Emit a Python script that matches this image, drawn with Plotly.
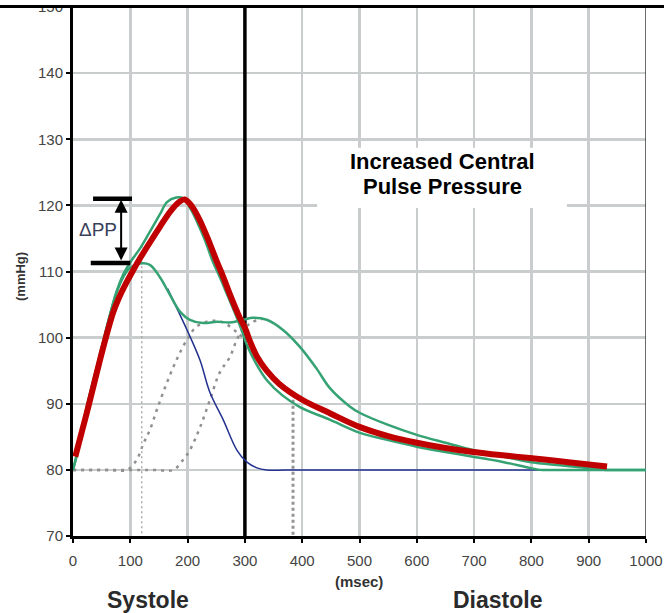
import plotly.graph_objects as go

# ---------------- data ----------------
x_ticks = [0, 100, 200, 300, 400, 500, 600, 700, 800, 900, 1000]
y_ticks = [70, 80, 90, 100, 110, 120, 130, 140, 150]

# normal central pressure wave (green, second shoulder)
normal_t = [0, 10, 24, 40, 53, 65, 76, 88, 100, 117, 134, 152, 169, 187, 204, 227, 251,
            274, 297, 314, 338, 366, 396, 426, 448, 483, 501, 550, 600, 650, 698, 750,
            797, 850, 897, 930, 960, 1000]
normal_p = [80, 83.5, 89.5, 95, 99.5, 103.6, 106.8, 109.2, 110.6, 111.2, 111, 109.1, 106.5,
            103.9, 102.7, 102.2, 102.4, 102.3, 102.7, 103, 102.7, 101.2, 98.6, 95.2, 92.4,
            89.6, 88.6, 86.8, 85.3, 84.1, 83, 82, 81.2, 80.7, 80.3, 80, 80, 80]

# increased central pulse pressure wave (green, peak ~121)
increased_t = [0, 10, 24, 40, 53, 65, 76, 88, 100, 117, 134, 152, 164, 180, 192, 205, 216,
               230, 244, 257, 269, 286, 297, 303, 320, 338, 365, 396, 448, 501, 550, 600,
               650, 698, 750, 797, 815, 850, 1000]
increased_p = [80, 83.5, 89.5, 95, 99.5, 103.6, 107, 109.6, 111.4, 113.5, 116, 118.7, 120.5,
               121.2, 121.1, 119.5, 117.6, 114.8, 111.5, 109, 106.5, 103, 100.5, 99, 96,
               93.6, 91.3, 89.5, 87.6, 85.6, 84.5, 83.5, 82.7, 82, 81.2, 80.3, 80, 80, 80]

# idealised aortic pressure (red)
aortic_t = [4, 24, 53, 70, 80, 90, 105, 117, 135, 152, 170, 185, 195, 208, 222, 237, 251,
            263, 274, 291, 300, 310, 322, 338, 360, 400, 450, 500, 550, 600, 650, 698, 750,
            797, 850, 900, 932]
aortic_p = [82, 88.6, 98.6, 103.8, 106, 107.8, 110.2, 112, 114.5, 116.8, 119.1, 120.5,
            120.9, 119.8, 117.6, 114.6, 111.5, 109, 106.5, 103, 101.5, 99.2, 97, 95, 93,
            90.6, 88.5, 86.5, 85.1, 84.1, 83.3, 82.7, 82.2, 81.8, 81.3, 80.8, 80.5]

# forward (incident) wave, visible part (blue)
forward_t = [165, 181, 204, 222, 239, 262, 286, 303, 321, 338, 400, 830]
forward_p = [107.4, 104.5, 100.2, 96.5, 91.7, 87.6, 83, 81.2, 80.3, 80, 80, 80]

# early reflected wave (grey dotted)
early_refl_t = [0, 60, 94, 111, 123, 134, 148, 164, 181, 199, 216, 239, 262, 286, 297]
early_refl_p = [80, 80, 80, 81.5, 84, 86, 89.5, 93.2, 96.7, 99.7, 101.7, 102.5, 102.3, 100.8, 100]

# late reflected wave (grey dotted)
late_refl_t = [0, 140, 175, 192, 204, 222, 239, 256, 274, 286, 297, 314, 330]
late_refl_p = [80, 80, 80, 81.5, 83, 86.5, 90.6, 94.7, 97.1, 99.7, 101.2, 102.4, 102.8]

# markers of reflected-wave arrival
arrival_early_t = [120, 120]
arrival_early_p = [113.8, 70]
arrival_late_t = [384, 384]
arrival_late_p = [90.6, 70]

# delta PP levels
pp_high = 121.0
pp_low = 111.3

FONT = "Liberation Sans, Arial, sans-serif"
GRID = "#C9CDCD"

fig = go.Figure()

fig.add_trace(go.Scatter(x=early_refl_t, y=early_refl_p, mode="lines", line_shape="spline",
                         line=dict(color="#909090", width=2.5, dash="3px,5px")))
fig.add_trace(go.Scatter(x=late_refl_t, y=late_refl_p, mode="lines", line_shape="spline",
                         line=dict(color="#909090", width=2.5, dash="3px,5px")))
fig.add_trace(go.Scatter(x=arrival_early_t, y=arrival_early_p, mode="lines",
                         line=dict(color="#A0A0A0", width=1.3, dash="2px,3px")))
fig.add_trace(go.Scatter(x=arrival_late_t, y=arrival_late_p, mode="lines",
                         line=dict(color="#959595", width=3, dash="3px,3px")))
fig.add_trace(go.Scatter(x=forward_t, y=forward_p, mode="lines", line_shape="spline",
                         line=dict(color="#22318F", width=1.5)))
fig.add_trace(go.Scatter(x=normal_t, y=normal_p, mode="lines", line_shape="spline",
                         line=dict(color="#35A274", width=2.5)))
fig.add_trace(go.Scatter(x=increased_t, y=increased_p, mode="lines", line_shape="spline",
                         line=dict(color="#35A274", width=2.5)))
fig.add_trace(go.Scatter(x=aortic_t, y=aortic_p, mode="lines", line_shape="spline",
                         line=dict(color="#C00000", width=6)))

shapes = [
    # systole / diastole boundary
    dict(type="line", xref="x", yref="y", x0=300, x1=300, y0=70, y1=150,
         line=dict(color="black", width=3.5), layer="between"),
    # right border
    dict(type="line", xref="x", yref="y", x0=1000, x1=1000, y0=70, y1=150,
         line=dict(color="#3a3a3a", width=1.5), layer="between"),
    # text box background
    dict(type="rect", xref="x", yref="y", x0=426, x1=862, y0=119.6, y1=128.7,
         fillcolor="white", line=dict(width=0), layer="between"),
    # delta PP bars
    dict(type="line", xref="x", yref="y", x0=35, x1=103, y0=pp_high, y1=pp_high,
         line=dict(color="black", width=4.5), layer="above"),
    dict(type="line", xref="x", yref="y", x0=31, x1=100, y0=pp_low, y1=pp_low,
         line=dict(color="black", width=4.5), layer="above"),
    # top edge of the page crop
    dict(type="rect", xref="paper", yref="paper", x0=-0.2, x1=1.1, y0=1.0038, y1=1.03,
         fillcolor="white", line=dict(width=0), layer="above"),
    dict(type="line", xref="paper", yref="paper", x0=-0.2, x1=1.1, y0=1.001, y1=1.001,
         line=dict(color="black", width=3), layer="above"),
]

annotations = [
    dict(x=644, y=126.67, xref="x", yref="y", text="<b>Increased Central</b>",
         showarrow=False, font=dict(family=FONT, size=22, color="black"),
         xanchor="center", yanchor="middle"),
    dict(x=644, y=122.88, xref="x", yref="y", text="<b>Pulse Pressure</b>",
         showarrow=False, font=dict(family=FONT, size=22, color="black"),
         xanchor="center", yanchor="middle"),
    dict(x=84, y=pp_high, ax=84, ay=pp_low, xref="x", yref="y", axref="x", ayref="y",
         text="", showarrow=True, arrowhead=2, arrowsize=1.3, arrowwidth=2,
         arrowside="end+start", arrowcolor="black", standoff=1, startstandoff=1),
    dict(x=43, y=116.3, xref="x", yref="y", text="ΔPP", showarrow=False,
         font=dict(family=FONT, size=19, color="#3b3f5a"), xanchor="center", yanchor="middle"),
    dict(x=-0.0908, y=0.4915, xref="paper", yref="paper", text="<b>(mmHg)</b>",
         textangle=-90, showarrow=False, font=dict(family=FONT, size=13, color="#333"),
         xanchor="center", yanchor="middle"),
    dict(x=0.4991, y=-0.0851, xref="paper", yref="paper", text="<b>(msec)</b>",
         showarrow=False, font=dict(family=FONT, size=15, color="#333"),
         xanchor="center", yanchor="middle"),
    dict(x=0.1309, y=-0.121, xref="paper", yref="paper", text="<b>Systole</b>",
         showarrow=False, font=dict(family=FONT, size=23, color="#2a2a2a"),
         xanchor="center", yanchor="middle", borderpad=0),
    dict(x=0.740, y=-0.121, xref="paper", yref="paper", text="<b>Diastole</b>",
         showarrow=False, font=dict(family=FONT, size=23, color="#2a2a2a"),
         xanchor="center", yanchor="middle", borderpad=0),
]

fig.update_layout(
    width=664, height=613,
    margin=dict(l=73, r=18, t=7, b=77),
    paper_bgcolor="white", plot_bgcolor="white",
    showlegend=False, hovermode=False,
    shapes=shapes, annotations=annotations,
    font=dict(family=FONT),
)
fig.update_xaxes(range=[0, 1000], tickvals=x_ticks, ticktext=[str(v) for v in x_ticks],
                 showgrid=True, gridcolor=GRID, gridwidth=2.5, zeroline=False,
                 showline=True, linecolor="black", linewidth=3,
                 ticks="outside", ticklen=4, tickwidth=2, tickcolor="black",
                 tickfont=dict(size=15, color="#444", family=FONT), ticklabelstandoff=5,
                 ticklabeloverflow="allow", automargin=False)
fig.update_yaxes(range=[70, 150], tickvals=y_ticks, ticktext=[str(v) for v in y_ticks],
                 showgrid=True, gridcolor=GRID, gridwidth=2.5, zeroline=False,
                 showline=True, linecolor="black", linewidth=3,
                 ticks="outside", ticklen=4, tickwidth=2, tickcolor="black",
                 tickfont=dict(size=15, color="#444", family=FONT),
                 ticklabeloverflow="allow", automargin=False)

# remove the browser's default 8px body margin so the figure fills the window exactly
fig.write_html("out.html",
               config={"displayModeBar": False, "staticPlot": True},
               post_script="document.body.style.margin='0';document.body.style.overflow='hidden';")
